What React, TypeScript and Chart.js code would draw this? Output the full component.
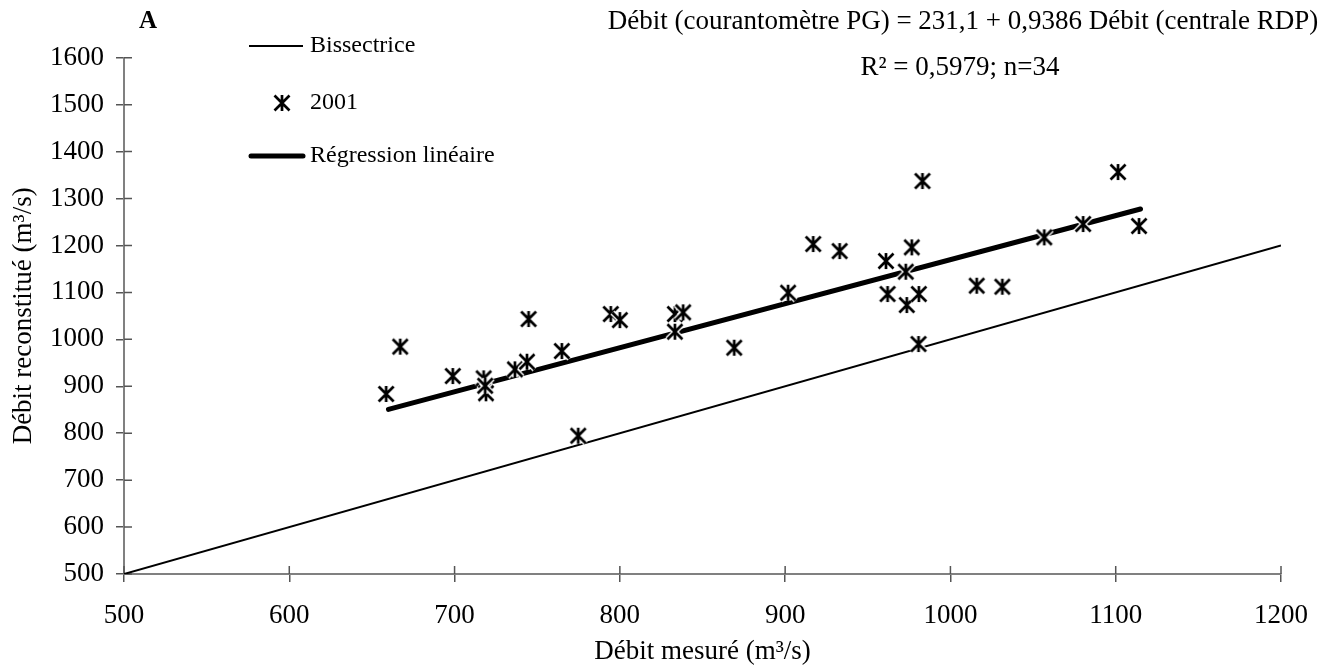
import { useEffect, useRef } from "react";
import { Chart, registerables } from "chart.js";

Chart.register(...registerables);

// ---- Data ----
const measured = [
  658.6, 667.1, 698.9, 717.6, 719.0, 718.5, 736.5, 743.8, 744.8, 764.9,
  774.8, 794.5, 800.0, 833.3, 838.3, 833.3, 869.2, 901.8, 917.0, 933.0,
  961.0, 976.6, 983.1, 962.0, 973.0, 973.6, 980.9, 980.7, 1015.9, 1031.4,
  1056.8, 1080.3, 1101.4, 1114.1,
];
const reconstructed = [
  883.5, 984.3, 921.8, 916.9, 885.0, 901.0, 936.0, 952.3, 1043.2, 975.0,
  794.6, 1053.9, 1041.0, 1053.9, 1057.5, 1016.2, 982.1, 1099.3, 1203.0, 1188.0,
  1166.8, 1196.0, 1337.2, 1096.5, 1144.0, 1073.0, 1096.5, 990.0, 1114.2, 1112.0,
  1217.3, 1245.6, 1356.4, 1241.4,
];
const bisectX = [500, 1200];
const regressionX = [660, 1115];
const intercept = 231.1;
const slope = 0.9386;
const xTickValues = [500, 600, 700, 800, 900, 1000, 1100, 1200];
const yTickValues = [500, 600, 700, 800, 900, 1000, 1100, 1200, 1300, 1400, 1500, 1600];

const seriesLabels = ["Bissectrice", "2001", "Régression linéaire"];
const equationLine1 = "Débit (courantomètre PG) = 231,1 + 0,9386 Débit (centrale RDP)";
const equationLine2 = "R² = 0,5979; n=34";
const panelLetter = "A";
const xTitle = "Débit mesuré (m³/s)";
const yTitle = "Débit reconstitué (m³/s)";

const FONT = "'Liberation Serif', 'Times New Roman', serif";

function makeMarker(): HTMLCanvasElement {
  const c = document.createElement("canvas");
  c.width = 20;
  c.height = 20;
  const g = c.getContext("2d")!;
  const draw = (color: string, w: number) => {
    g.strokeStyle = color;
    g.lineWidth = w;
    g.lineCap = "butt";
    g.beginPath();
    g.moveTo(2.5, 2.5);
    g.lineTo(17.5, 17.5);
    g.moveTo(17.5, 2.5);
    g.lineTo(2.5, 17.5);
    g.moveTo(10, 2);
    g.lineTo(10, 18);
    g.stroke();
  };
  draw("#ffffff", 5.5);
  draw("#000000", 2.7);
  return c;
}

export default function App() {
  const ref = useRef<HTMLCanvasElement | null>(null);

  useEffect(() => {
    document.body.style.margin = "0";
    const canvas = ref.current;
    if (!canvas) return;
    const marker = makeMarker();

    const decor = {
      id: "decor",
      beforeDatasetsDraw(chart: any) {
        const ctx = chart.ctx;
        const { left, bottom } = chart.chartArea;
        const xs = chart.scales.x;
        const ys = chart.scales.y;
        ctx.save();
        ctx.strokeStyle = "#555";
        ctx.lineWidth = 1.5;
        ctx.beginPath();
        xTickValues.forEach((v) => {
          const px = xs.getPixelForValue(v);
          ctx.moveTo(px, bottom);
          ctx.lineTo(px, bottom - 8);
        });
        yTickValues.forEach((v) => {
          const py = ys.getPixelForValue(v);
          ctx.moveTo(left, py);
          ctx.lineTo(left + 8, py);
        });
        ctx.stroke();
        ctx.restore();
      },
      afterDraw(chart: any) {
        const ctx = chart.ctx;
        ctx.save();
        ctx.fillStyle = "#000";
        ctx.textBaseline = "middle";
        // Panel letter
        ctx.font = `bold 25px ${FONT}`;
        ctx.textAlign = "center";
        ctx.fillText(panelLetter, 148, 22);
        // Equation
        ctx.font = `27px ${FONT}`;
        ctx.fillText(equationLine1, 963, 22);
        ctx.fillText(equationLine2, 960, 68);
        // Legend
        ctx.font = `24px ${FONT}`;
        ctx.textAlign = "left";
        const lx0 = 249;
        const lx1 = 303;
        const tx = 310;
        ctx.strokeStyle = "#000";
        ctx.lineWidth = 2;
        ctx.beginPath();
        ctx.moveTo(lx0, 46);
        ctx.lineTo(lx1, 46);
        ctx.stroke();
        ctx.fillText(seriesLabels[0], tx, 46);
        ctx.drawImage(marker, 282 - 10, 103 - 10);
        ctx.fillText(seriesLabels[1], tx, 103);
        ctx.lineWidth = 5;
        ctx.lineCap = "round";
        ctx.beginPath();
        ctx.moveTo(lx0 + 2, 156);
        ctx.lineTo(lx1, 156);
        ctx.stroke();
        ctx.fillText(seriesLabels[2], tx, 156);
        ctx.restore();
      },
    };

    const chart = new Chart(canvas, {
      type: "scatter",
      data: {
        datasets: [
          {
            label: seriesLabels[1],
            data: measured.map((x, i) => ({ x, y: reconstructed[i] })),
            pointStyle: marker as any,
            pointRadius: 10,
            order: 0,
          },
          {
            label: seriesLabels[2],
            data: regressionX.map((x) => ({ x, y: intercept + slope * x })),
            showLine: true,
            borderColor: "#000",
            borderWidth: 5,
            borderCapStyle: "round",
            pointRadius: 0,
            order: 1,
          },
          {
            label: seriesLabels[0],
            data: bisectX.map((x) => ({ x, y: x })),
            showLine: true,
            borderColor: "#000",
            borderWidth: 2,
            pointRadius: 0,
            order: 2,
          },
        ],
      },
      options: {
        responsive: false,
        animation: false,
        events: [],
        layout: { padding: { left: 0, right: 41, top: 57.7, bottom: 0 } },
        plugins: {
          legend: { display: false },
          tooltip: { enabled: false },
        },
        scales: {
          x: {
            type: "linear",
            min: 500,
            max: 1200,
            afterBuildTicks: (s: any) => {
              s.ticks = xTickValues.map((v) => ({ value: v }));
            },
            afterFit: (s: any) => {
              s.height = 96;
            },
            ticks: {
              color: "#000",
              font: { family: FONT, size: 27 },
              padding: 18,
              maxRotation: 0,
              callback: (v: any) => String(v),
            },
            grid: {
              drawOnChartArea: false,
              drawTicks: true,
              tickLength: 8,
              color: "#555",
              lineWidth: 1.5,
            },
            border: { display: true, color: "#808080", width: 2 },
            title: {
              display: true,
              text: xTitle,
              color: "#000",
              font: { family: FONT, size: 27 },
              padding: { top: 0, bottom: 2 },
            },
          },
          y: {
            type: "linear",
            min: 500,
            max: 1600,
            afterBuildTicks: (s: any) => {
              s.ticks = yTickValues.map((v) => ({ value: v }));
            },
            afterFit: (s: any) => {
              s.width = 124;
            },
            ticks: {
              color: "#000",
              font: { family: FONT, size: 27 },
              padding: 12,
              callback: (v: any) => String(v),
            },
            grid: {
              drawOnChartArea: false,
              drawTicks: true,
              tickLength: 8,
              color: "#555",
              lineWidth: 1.5,
            },
            border: { display: true, color: "#808080", width: 2 },
            title: {
              display: true,
              text: yTitle,
              color: "#000",
              font: { family: FONT, size: 27 },
              padding: { top: 8, bottom: 0 },
            },
          },
        },
      },
      plugins: [decor],
    });

    return () => chart.destroy();
  }, []);

  return (
    <canvas
      ref={ref}
      width={1326}
      height={670}
      style={{ display: "block", width: 1326, height: 670 }}
    />
  );
}
